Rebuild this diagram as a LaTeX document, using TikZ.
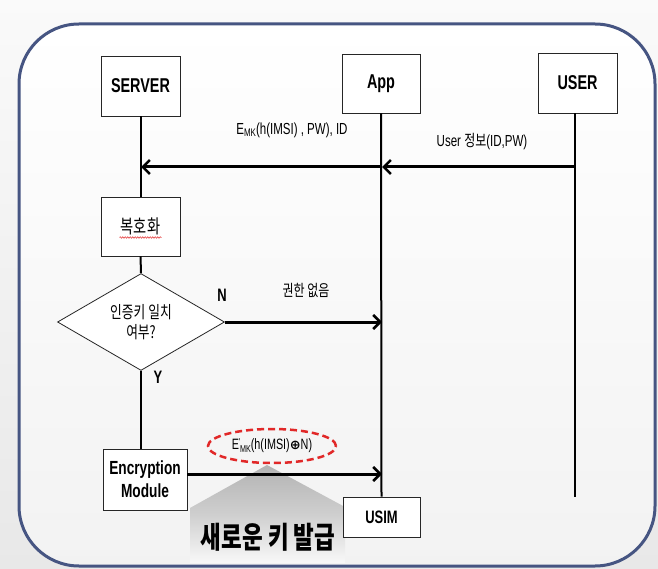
\documentclass[tikz,border=0pt]{standalone}
\usepackage{fontspec}
\setmainfont[FakeStretch=0.72]{Liberation Sans}
\newfontfamily\kr[FakeStretch=0.75]{Noto Sans CJK KR}
\newfontfamily\sym{DejaVu Sans}
\usetikzlibrary{arrows.meta,shapes.geometric,decorations.pathmorphing,calc}
\definecolor{frameblue}{RGB}{70,85,130}
\definecolor{dashred}{RGB}{225,40,40}
\begin{document}
\begin{tikzpicture}[x=1pt,y=-1pt,
  box/.style={draw=black!85, line width=0.8pt, fill=white, inner sep=0pt,
    font=\bfseries\fontsize{20}{22}\selectfont, align=center},
  life/.style={line width=2pt},
  msg/.style={line width=3pt, -{Straight Barb[length=7pt,width=14pt,line width=2.5pt]}},
  lbl/.style={inner sep=0pt, font=\fontsize{16}{18}\selectfont},
  yn/.style={inner sep=0pt, font=\bfseries\fontsize{18}{20}\selectfont}]
% background
\useasboundingbox (0,0) rectangle (658,569);
\shade[top color=gray!4, bottom color=gray!18] (0,0) rectangle (658,569);
\shade[rounded corners=60pt, top color=white, bottom color=gray!10]
  (19,24) rectangle (655,566);
% big gray arrow
\shade[top color=gray!60, bottom color=gray!5, middle color=gray!38]
  (267,465) -- (345,507) -- (345,563) -- (190,563) -- (190,508) -- cycle;
% frame border on top
\draw[line width=3pt, draw=frameblue, rounded corners=60pt] (19,24) rectangle (655,566);
% boxes
\node[box, minimum width=79pt, minimum height=60pt] (server) at (140.5,86) {SERVER};
\node[box, minimum width=78pt, minimum height=59pt] (app) at (381,83.5) {App};
\node[box, minimum width=79pt, minimum height=60pt] (user) at (577.5,83) {USER};
\node[box, minimum width=79pt, minimum height=59pt, font=\kr\fontsize{19}{21}\selectfont] (dec) at (140.5,226.5) {복호화};
\node[draw=black!85, line width=0.8pt, fill=white, diamond, inner sep=0pt,
  minimum width=167pt, minimum height=70pt, align=center,
  font=\kr\fontsize{17}{20}\selectfont] (dia) at (141,322) {인증키 일치\\여부?};
\node[box, minimum width=84pt, minimum height=61pt, font=\bfseries\fontsize{19}{23}\selectfont] (enc) at (145,479.5) {Encryption\\Module};
\node[box, minimum width=77pt, minimum height=40pt, font=\bfseries\fontsize{18}{20}\selectfont] (usim) at (381.5,517) {USIM};
% spell-check underline
\draw[dashred, line width=0.5pt, decorate, decoration={snake, amplitude=0.8pt, segment length=2.5pt}]
  ($(dec.center)+(-21,11)$) -- ($(dec.center)+(21,11)$);
% lifelines
\coordinate (uend) at (575,497);
\draw[life] (server.south) -- (dec.north);
\draw[life] (dec.south) -- (dia.north);
\draw[life] (dia.south) -- (dia.south |- enc.north);
\draw[life] (app.south) -- (usim.north);
\draw[life] (user.south -| uend) -- (uend);
% message points
\coordinate (s1) at (141,167);
\coordinate (a1) at (382,167);
\coordinate (u1) at (575,167);
\coordinate (a2) at (382,322);
\coordinate (a3) at (382,474);
\draw[msg] (u1) -- (a1);
\draw[msg] (a1) -- (s1);
\draw[msg] (dia.east) -- (a2);
\draw[msg] (enc.east |- a3) -- (a3);
% labels
\node[lbl] (l1) at (292,130) {E\raisebox{-2.5pt}{\fontsize{11}{11}\selectfont MK}(h(IMSI) , PW), ID};
\node[lbl] (l2) at (482,142) {User {\kr 정보}(ID,PW)};
\node[yn] (n) at (222,295) {N};
\node[lbl, font=\kr\fontsize{16}{18}\selectfont] (l3) at (306,290) {권한 없음};
\node[yn] (y) at (158,377) {Y};
\node[ellipse, draw=dashred, dashed, dash pattern=on 7pt off 4pt, line width=2.5pt,
  minimum width=128pt, minimum height=34pt, inner sep=0pt,
  font=\fontsize{15}{17}\selectfont] (ek) at (272,446)
  {E\raisebox{4pt}{\fontsize{10}{10}\selectfont\textquotesingle}\kern-1pt\raisebox{-2.5pt}{\fontsize{10}{10}\selectfont MK}(h(IMSI){\sym\bfseries\fontsize{13}{15}\selectfont ⊕}N)};
\node[inner sep=0pt, font=\kr\bfseries\fontsize{30}{32}\selectfont] (newkey) at (268,537) {새로운 키 발급};
\end{tikzpicture}
\end{document}
